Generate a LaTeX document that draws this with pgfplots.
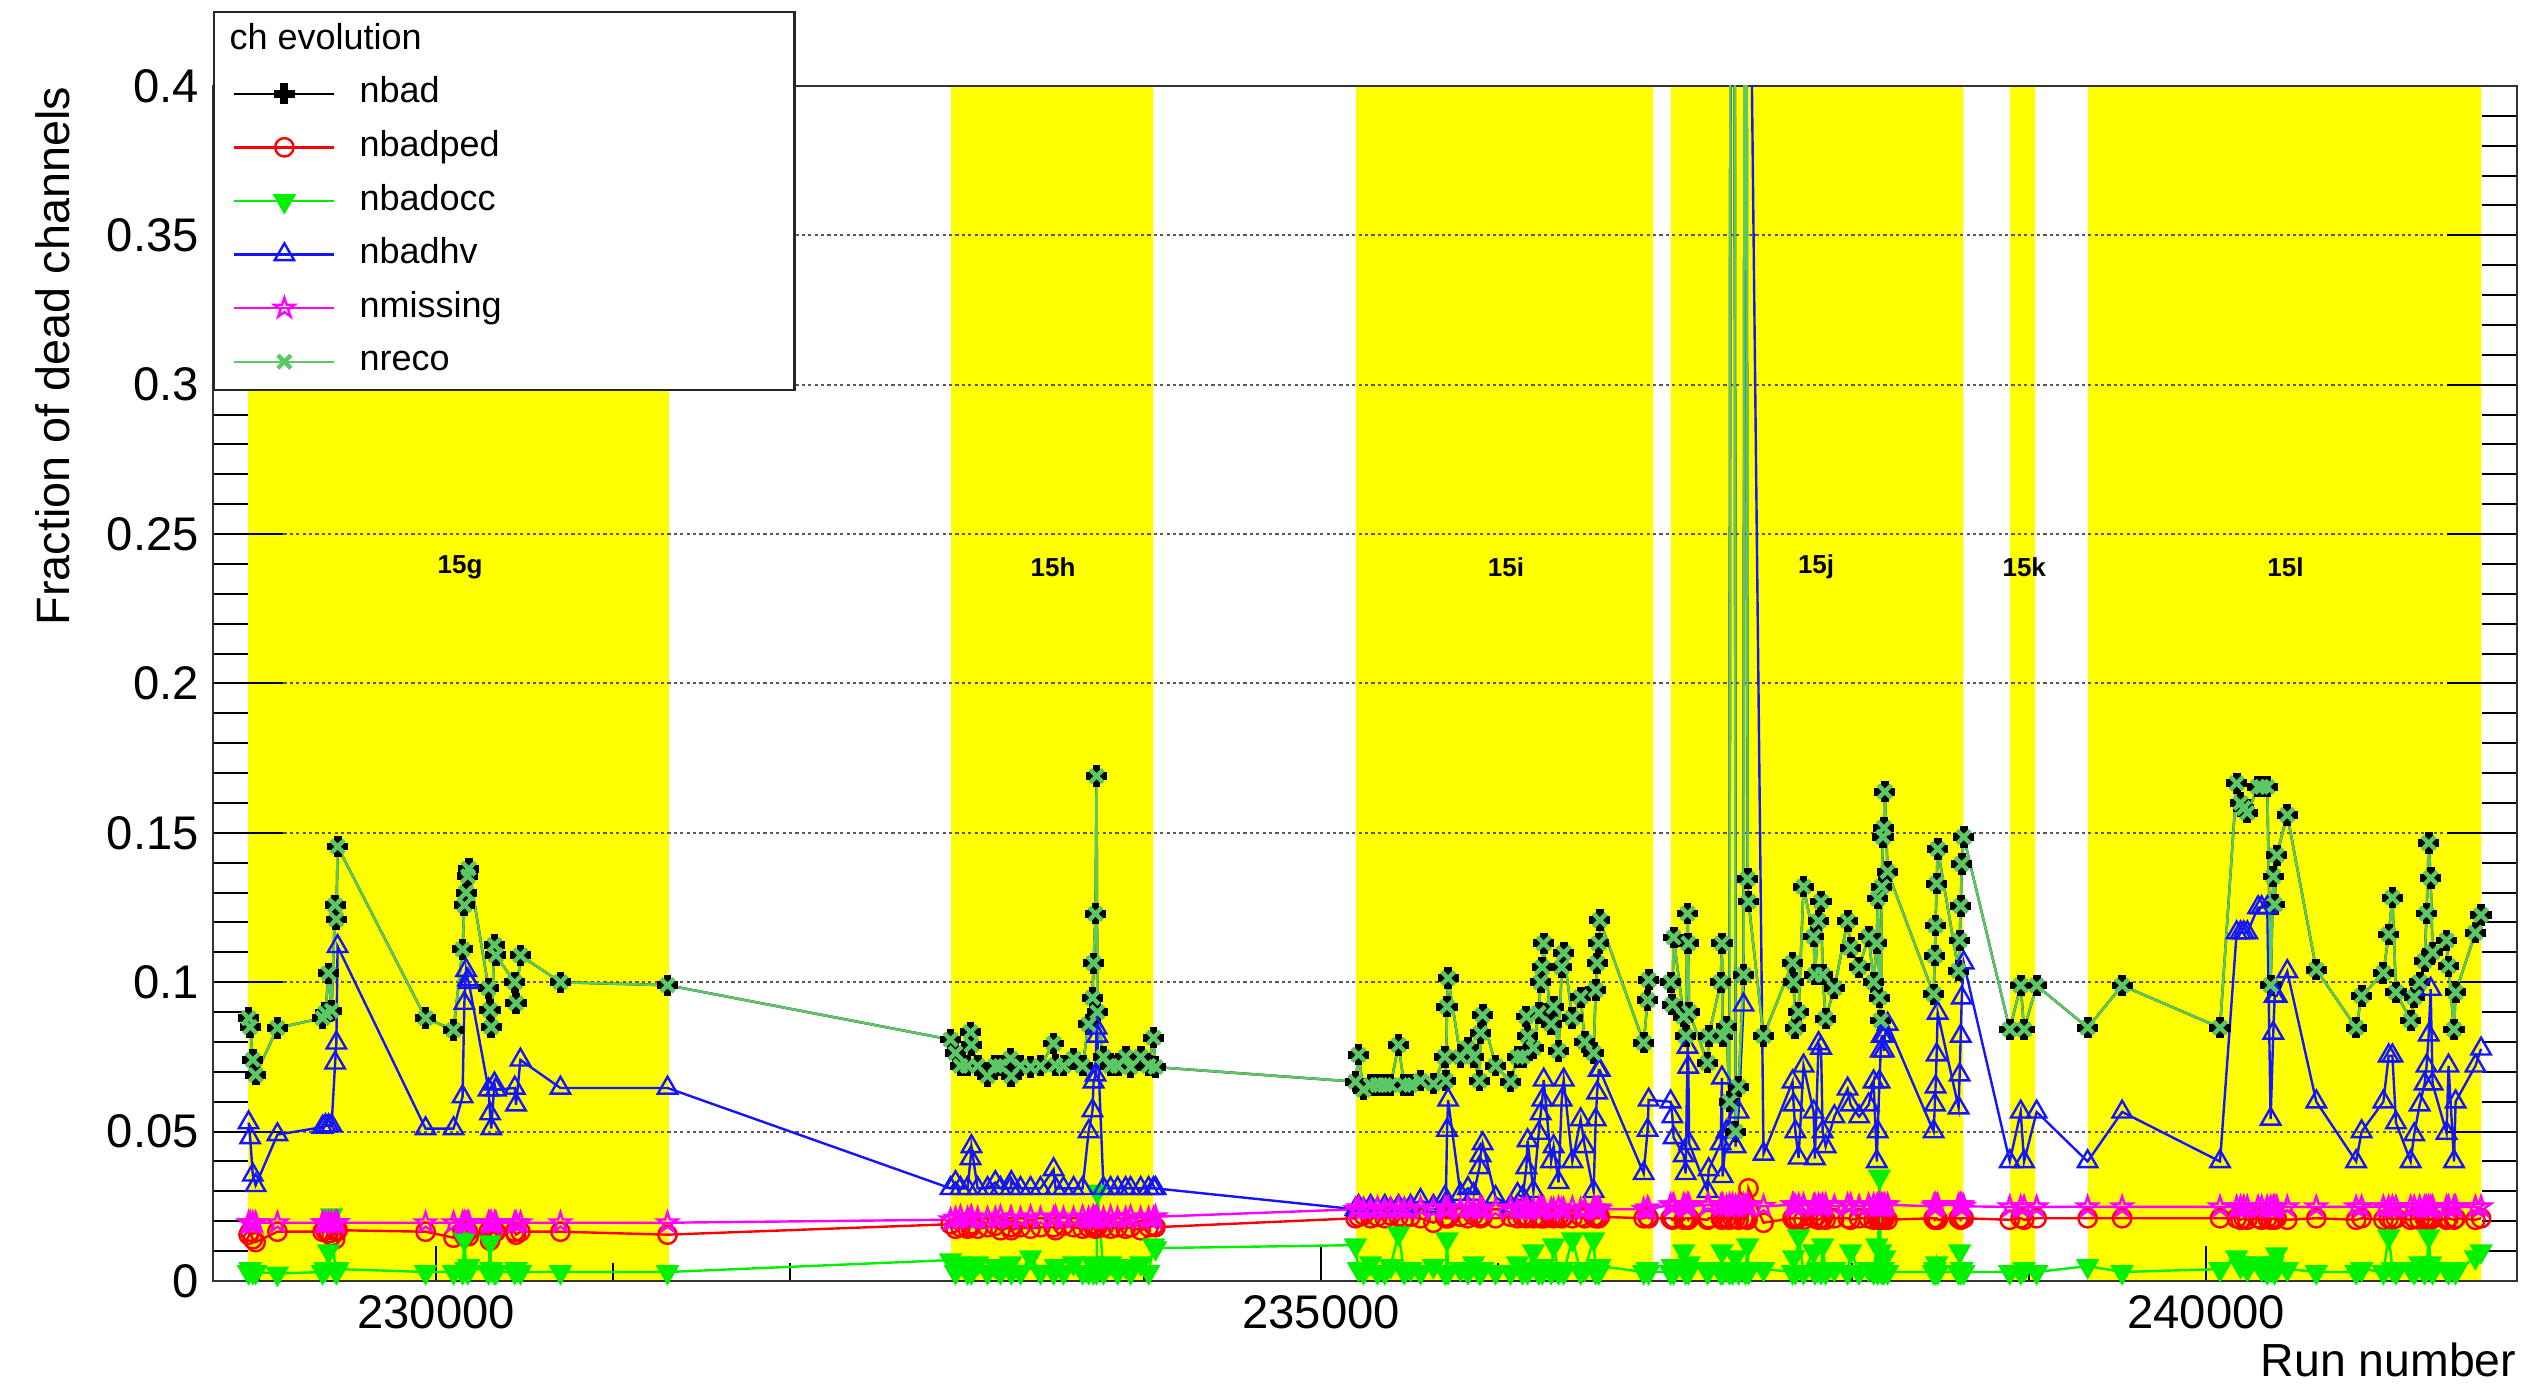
\documentclass[border=0pt]{standalone}
\usepackage{pgfplots}
\pgfplotsset{compat=1.18}
\usepackage{pgfplotstable}
\usepackage{fontspec}
\setmainfont{Liberation Sans}
\usetikzlibrary{plotmarks}

\definecolor{bandyellow}{RGB}{255,255,0}
\definecolor{cped}{RGB}{255,0,0}
\definecolor{cocc}{RGB}{0,240,0}
\definecolor{chv}{RGB}{20,20,255}
\definecolor{cmiss}{RGB}{255,0,255}
\definecolor{creco}{RGB}{90,200,100}
\definecolor{cgrid}{RGB}{90,90,90}

\pgfdeclareplotmark{fullcross}{%
  \pgfpathmoveto{\pgfqpoint{-0.33\pgfplotmarksize}{\pgfplotmarksize}}%
  \pgfpathlineto{\pgfqpoint{0.33\pgfplotmarksize}{\pgfplotmarksize}}%
  \pgfpathlineto{\pgfqpoint{0.33\pgfplotmarksize}{0.33\pgfplotmarksize}}%
  \pgfpathlineto{\pgfqpoint{\pgfplotmarksize}{0.33\pgfplotmarksize}}%
  \pgfpathlineto{\pgfqpoint{\pgfplotmarksize}{-0.33\pgfplotmarksize}}%
  \pgfpathlineto{\pgfqpoint{0.33\pgfplotmarksize}{-0.33\pgfplotmarksize}}%
  \pgfpathlineto{\pgfqpoint{0.33\pgfplotmarksize}{-\pgfplotmarksize}}%
  \pgfpathlineto{\pgfqpoint{-0.33\pgfplotmarksize}{-\pgfplotmarksize}}%
  \pgfpathlineto{\pgfqpoint{-0.33\pgfplotmarksize}{-0.33\pgfplotmarksize}}%
  \pgfpathlineto{\pgfqpoint{-\pgfplotmarksize}{-0.33\pgfplotmarksize}}%
  \pgfpathlineto{\pgfqpoint{-\pgfplotmarksize}{0.33\pgfplotmarksize}}%
  \pgfpathlineto{\pgfqpoint{-0.33\pgfplotmarksize}{0.33\pgfplotmarksize}}%
  \pgfpathclose
  \pgfusepathqfillstroke
}
\pgfdeclareplotmark{ostar}{%
  \pgfpathmoveto{\pgfqpoint{0pt}{\pgfplotmarksize}}%
  \pgfpathlineto{\pgfqpoint{-0.2245\pgfplotmarksize}{0.309\pgfplotmarksize}}%
  \pgfpathlineto{\pgfqpoint{-0.9511\pgfplotmarksize}{0.309\pgfplotmarksize}}%
  \pgfpathlineto{\pgfqpoint{-0.3633\pgfplotmarksize}{-0.118\pgfplotmarksize}}%
  \pgfpathlineto{\pgfqpoint{-0.5878\pgfplotmarksize}{-0.809\pgfplotmarksize}}%
  \pgfpathlineto{\pgfqpoint{0pt}{-0.382\pgfplotmarksize}}%
  \pgfpathlineto{\pgfqpoint{0.5878\pgfplotmarksize}{-0.809\pgfplotmarksize}}%
  \pgfpathlineto{\pgfqpoint{0.3633\pgfplotmarksize}{-0.118\pgfplotmarksize}}%
  \pgfpathlineto{\pgfqpoint{0.9511\pgfplotmarksize}{0.309\pgfplotmarksize}}%
  \pgfpathlineto{\pgfqpoint{0.2245\pgfplotmarksize}{0.309\pgfplotmarksize}}%
  \pgfpathclose
  \pgfusepathqstroke
}

\pgfplotstableread{
run nbad ped occ hv miss
228941 0.088 0.0155 0.003 0.053 0.0195
228950 0.085 0.0165 0.004 0.048 0.0195
228965 0.074 0.014 0.003 0.0355 0.0195
228981 0.069 0.013 0.003 0.032 0.0195
229104 0.0847 0.0165 0.0025 0.049 0.0195
229359 0.088 0.0165 0.003 0.0515 0.0195
229375 0.0897 0.017 0.004 0.052 0.0195
229393 0.103 0.016 0.010 0.052 0.0195
229410 0.0905 0.015 0.022 0.052 0.0195
229430 0.1258 0.014 0.004 0.073 0.0195
229437 0.121 0.0165 0.003 0.0797 0.0195
229444 0.1454 0.017 0.004 0.112 0.0195
229941 0.088 0.0165 0.003 0.051 0.0195
230099 0.084 0.0145 0.003 0.051 0.0195
230150 0.111 0.0165 0.003 0.0617 0.0195
230160 0.1258 0.015 0.014 0.093 0.0195
230170 0.130 0.0165 0.004 0.104 0.0195
230180 0.1355 0.0165 0.003 0.1008 0.0195
230185 0.138 0.015 0.005 0.100 0.0195
230297 0.098 0.0165 0.003 0.064 0.0195
230305 0.0907 0.0135 0.013 0.056 0.0195
230312 0.085 0.016 0.004 0.051 0.0195
230330 0.1125 0.0165 0.003 0.066 0.0195
230338 0.109 0.0165 0.003 0.064 0.0195
230445 0.100 0.0165 0.003 0.0646 0.0195
230452 0.093 0.0155 0.004 0.059 0.0195
230477 0.109 0.0165 0.003 0.074 0.0195
230703 0.100 0.0165 0.003 0.0646 0.0195
231308 0.099 0.0155 0.003 0.0646 0.0195
232907 0.0808 0.019 0.007 0.031 0.0205
232935 0.0763 0.0175 0.003 0.033 0.021
232963 0.072 0.018 0.006 0.031 0.0215
233003 0.072 0.0175 0.003 0.031 0.021
233020 0.0833 0.018 0.005 0.041 0.021
233025 0.079 0.019 0.003 0.045 0.0215
233060 0.072 0.0175 0.006 0.031 0.021
233116 0.0686 0.018 0.003 0.031 0.021
233160 0.072 0.0185 0.005 0.033 0.021
233189 0.072 0.017 0.003 0.031 0.0215
233246 0.0744 0.018 0.006 0.031 0.021
233250 0.0686 0.017 0.003 0.033 0.021
233302 0.072 0.018 0.003 0.031 0.021
233359 0.0716 0.0175 0.008 0.031 0.0215
233415 0.072 0.018 0.003 0.031 0.021
233489 0.0795 0.018 0.003 0.0373 0.021
233500 0.0723 0.017 0.005 0.031 0.0215
233545 0.072 0.0185 0.003 0.031 0.021
233602 0.0744 0.018 0.006 0.031 0.021
233653 0.072 0.0175 0.003 0.031 0.0215
233687 0.0859 0.018 0.003 0.050 0.021
233709 0.0948 0.019 0.006 0.057 0.021
233715 0.1064 0.018 0.003 0.0667 0.0215
233726 0.1229 0.0175 0.004 0.069 0.021
233732 0.169 0.018 0.003 0.0847 0.021
233736 0.090 0.018 0.030 0.082 0.0215
233771 0.075 0.018 0.003 0.031 0.021
233811 0.072 0.0175 0.006 0.031 0.0215
233851 0.072 0.018 0.003 0.031 0.021
233896 0.075 0.0175 0.005 0.031 0.021
233924 0.0716 0.018 0.003 0.031 0.0215
233981 0.075 0.017 0.006 0.031 0.021
234026 0.072 0.018 0.003 0.031 0.021
234054 0.0814 0.0185 0.012 0.031 0.021
234065 0.0716 0.018 0.011 0.031 0.0215
235195 0.0667 0.021 0.012 0.024 0.024
235212 0.0757 0.0215 0.004 0.025 0.0245
235240 0.064 0.022 0.003 0.024 0.024
235280 0.0656 0.021 0.006 0.025 0.024
235319 0.0656 0.0215 0.003 0.024 0.0245
235360 0.0656 0.021 0.003 0.025 0.024
235393 0.0656 0.022 0.005 0.024 0.024
235438 0.079 0.0215 0.016 0.025 0.0245
235470 0.0656 0.021 0.003 0.024 0.024
235506 0.0656 0.0215 0.004 0.025 0.024
235562 0.067 0.021 0.003 0.027 0.0245
235635 0.066 0.0195 0.005 0.025 0.024
235700 0.075 0.0215 0.003 0.028 0.0245
235705 0.067 0.021 0.003 0.026 0.024
235712 0.0918 0.0215 0.014 0.0505 0.024
235718 0.1014 0.021 0.003 0.0606 0.0245
235788 0.075 0.0215 0.004 0.029 0.024
235830 0.078 0.021 0.003 0.031 0.0245
235862 0.075 0.022 0.006 0.029 0.024
235895 0.067 0.0215 0.003 0.038 0.024
235901 0.083 0.021 0.003 0.042 0.0245
235913 0.089 0.0215 0.004 0.046 0.024
235986 0.072 0.021 0.003 0.028 0.024
236071 0.0667 0.0215 0.003 0.025 0.0245
236110 0.075 0.021 0.006 0.029 0.024
236139 0.075 0.0215 0.003 0.028 0.024
236160 0.0885 0.021 0.004 0.038 0.0245
236167 0.082 0.0215 0.003 0.047 0.024
236200 0.078 0.021 0.010 0.030 0.024
236230 0.0897 0.0215 0.003 0.0495 0.0245
236241 0.100 0.021 0.004 0.056 0.024
236250 0.105 0.0215 0.003 0.0606 0.024
236258 0.113 0.021 0.005 0.0673 0.0245
236300 0.086 0.0215 0.003 0.040 0.024
236314 0.0918 0.021 0.012 0.045 0.024
236342 0.077 0.0215 0.003 0.033 0.0245
236360 0.105 0.021 0.004 0.0606 0.024
236371 0.1098 0.0215 0.003 0.0673 0.024
236420 0.088 0.021 0.014 0.040 0.0245
236467 0.095 0.0215 0.003 0.054 0.024
236490 0.080 0.021 0.004 0.045 0.024
236540 0.0763 0.0215 0.014 0.030 0.0245
236552 0.0974 0.021 0.003 0.054 0.024
236560 0.1064 0.0215 0.004 0.063 0.024
236569 0.113 0.021 0.003 0.0706 0.0245
236575 0.1208 0.0215 0.005 0.0706 0.024
236823 0.0797 0.021 0.003 0.036 0.024
236845 0.094 0.0215 0.004 0.0505 0.0245
236851 0.1008 0.021 0.003 0.0606 0.024
236975 0.100 0.021 0.003 0.060 0.0255
236985 0.0925 0.0205 0.005 0.055 0.025
236992 0.115 0.021 0.003 0.048 0.0255
237049 0.0884 0.0205 0.010 0.042 0.0255
237060 0.082 0.021 0.003 0.036 0.025
237071 0.123 0.021 0.004 0.0783 0.0255
237075 0.113 0.0205 0.003 0.0716 0.0255
237080 0.090 0.021 0.006 0.046 0.025
237184 0.073 0.0205 0.003 0.030 0.0255
237190 0.082 0.021 0.004 0.0373 0.0255
237258 0.100 0.021 0.003 0.046 0.025
237265 0.113 0.0205 0.010 0.068 0.0255
237269 0.082 0.021 0.003 0.035 0.0255
237291 0.085 0.021 0.004 0.050 0.025
237308 0.060 0.0205 0.003 0.050 0.0255
237325 1.5 0.021 0.003 1.4 0.0255
237342 0.050 0.021 0.008 0.045 0.025
237359 0.065 0.0205 0.003 0.0566 0.0255
237387 0.1025 0.021 0.004 0.0924 0.0255
237398 0.8 0.021 0.003 0.6 0.025
237410 0.1346 0.0205 0.012 nan 0.0255
237415 0.127 0.031 0.003 nan 0.0255
237500 0.082 0.0195 0.004 0.0425 0.025
237664 0.1065 0.021 0.003 0.0667 0.0255
237670 0.100 0.0205 0.008 0.059 0.0255
237680 0.0847 0.021 0.003 0.050 0.025
237698 0.090 0.021 0.015 0.0412 0.0255
237726 0.132 0.0205 0.003 0.072 0.0255
237783 0.1153 0.021 0.010 0.0566 0.025
237790 0.1025 0.021 0.003 0.041 0.0255
237811 0.1205 0.0205 0.004 0.0795 0.0255
237825 0.127 0.021 0.003 0.078 0.025
237834 0.1025 0.021 0.012 0.050 0.0255
237851 0.0878 0.0205 0.003 0.045 0.0255
237900 0.098 0.021 0.004 0.055 0.025
237975 0.1205 0.021 0.003 0.0643 0.0255
237992 0.1115 0.0205 0.010 0.059 0.0255
238040 0.105 0.021 0.003 0.055 0.025
238094 0.1153 0.021 0.004 0.059 0.0255
238122 0.100 0.0205 0.003 0.0667 0.0255
238140 0.113 0.021 0.012 0.040 0.025
238145 0.128 0.021 0.003 0.050 0.0255
238155 0.0948 0.0205 0.035 0.0667 0.0255
238162 0.0872 0.021 0.010 0.077 0.025
238168 0.132 0.021 0.003 0.082 0.0255
238175 0.1486 0.0205 0.004 0.082 0.0255
238180 0.1517 0.021 0.003 0.077 0.025
238185 0.1638 0.021 0.008 0.082 0.0255
238201 0.137 0.0205 0.003 0.086 0.0255
238461 0.096 0.021 0.003 0.050 0.025
238468 0.1089 0.0205 0.004 0.059 0.0255
238472 0.119 0.021 0.003 0.065 0.0255
238478 0.133 0.021 0.006 0.0757 0.025
238484 0.1446 0.0205 0.003 0.0897 0.0255
238602 0.1038 0.021 0.003 0.058 0.0255
238608 0.114 0.021 0.010 0.069 0.025
238614 0.1255 0.0205 0.003 0.082 0.0255
238620 0.1396 0.021 0.004 0.0948 0.0255
238631 0.1486 0.021 0.003 0.1065 0.025
238891 0.0842 0.0205 0.003 0.040 0.0248
238953 0.0989 0.021 0.003 0.0566 0.0248
238972 0.0842 0.0205 0.004 0.040 0.0248
239043 0.0989 0.021 0.003 0.0566 0.0248
239331 0.0848 0.021 0.005 0.040 0.0248
239526 0.0989 0.021 0.003 0.0566 0.0248
240079 0.0848 0.021 0.004 0.040 0.0248
240173 0.1666 0.021 0.008 0.1166 0.0248
240195 0.160 0.0205 0.005 0.1166 0.0248
240213 0.1583 0.021 0.006 0.1166 0.0248
240233 0.1567 0.0205 0.004 0.1166 0.0248
240294 0.1654 0.021 0.006 0.125 0.0248
240314 0.1654 0.0205 0.004 0.125 0.0248
240346 0.1654 0.021 0.003 0.125 0.0248
240365 0.099 0.0205 0.004 0.0542 0.0248
240380 0.1354 0.021 0.006 0.083 0.0248
240388 0.126 0.0205 0.003 0.0954 0.0248
240399 0.1425 0.021 0.009 0.0954 0.0248
240459 0.156 0.0205 0.004 0.1036 0.0248
240623 0.1042 0.021 0.003 0.060 0.0248
240848 0.0848 0.0205 0.003 0.040 0.0248
240879 0.0954 0.021 0.004 0.050 0.0248
241002 0.1031 0.0205 0.003 0.060 0.0248
241032 0.116 0.021 0.015 0.0754 0.0248
241053 0.1283 0.0205 0.004 0.0754 0.0248
241073 0.0966 0.021 0.003 0.053 0.0248
241156 0.0872 0.0205 0.004 0.040 0.0248
241176 0.095 0.021 0.003 0.049 0.0248
241207 0.100 0.0205 0.006 0.059 0.0248
241235 0.1071 0.021 0.003 0.066 0.0248
241246 0.123 0.0205 0.004 0.072 0.0248
241258 0.1466 0.021 0.015 0.0824 0.0248
241269 0.1349 0.0205 0.006 0.0977 0.0248
241280 0.110 0.021 0.003 0.066 0.0248
241359 0.114 0.0205 0.004 0.0495 0.0248
241370 0.1054 0.021 0.003 0.072 0.0248
241401 0.0842 0.0205 0.004 0.040 0.0248
241410 0.0966 0.021 0.003 0.060 0.0248
241522 0.1166 0.0205 0.008 0.072 0.0248
241554 0.1225 0.021 0.010 0.0777 0.0248
}\runs

\pgfplotsset{
  commonaxis/.style={
    at={(0,0)}, anchor=south west, scale only axis,
    width=576pt, height=298.75pt,
    xmin=228740, xmax=241757, ymin=0, ymax=0.4,
    scaled x ticks=false, scaled y ticks=false,
  },
}

\begin{document}
\begin{tikzpicture}
\useasboundingbox (-53.25pt,-26.75pt) rectangle (583.25pt,320.25pt);

% background: yellow period bands
\begin{axis}[commonaxis, hide axis]
\addplot[fill=bandyellow, draw=none] coordinates {(228938,0) (228938,0.4) (231316,0.4) (231316,0)} \closedcycle;
\addplot[fill=bandyellow, draw=none] coordinates {(232910,0) (232910,0.4) (234051,0.4) (234051,0)} \closedcycle;
\addplot[fill=bandyellow, draw=none] coordinates {(235198,0) (235198,0.4) (236876,0.4) (236876,0)} \closedcycle;
\addplot[fill=bandyellow, draw=none] coordinates {(236977,0) (236977,0.4) (238627,0.4) (238627,0)} \closedcycle;
\addplot[fill=bandyellow, draw=none] coordinates {(238893,0) (238893,0.4) (239034,0.4) (239034,0)} \closedcycle;
\addplot[fill=bandyellow, draw=none] coordinates {(239333,0) (239333,0.4) (241554,0.4) (241554,0)} \closedcycle;
\begin{scope}[every node/.style={font=\bfseries\fontsize{6.5}{8}\selectfont, inner sep=0pt}]
\node at (axis cs:230136,0.239) {15g};
\node at (axis cs:233486,0.239) {15h};
\node at (axis cs:236045,0.239) {15i};
\node at (axis cs:237797,0.239) {15j};
\node at (axis cs:238973,0.239) {15k};
\node at (axis cs:240449,0.239) {15l};
\end{scope}
\end{axis}

% x ticks and x label
\begin{axis}[commonaxis,
  axis y line=none, axis x line*=bottom,
  axis line style={line width=0.6pt, black!80},
  xtick={230000,235000,240000},
  xticklabels={230000,235000,240000},
  minor xtick={229000,231000,232000,233000,234000,236000,237000,238000,239000,241000},
  tick align=inside,
  major tick length=8.75pt, minor tick length=4.5pt,
  tick style={black, line width=0.5pt},
  ticklabel style={font=\fontsize{11.8}{14}\selectfont},
  xlabel={Run number},
  xlabel style={at={(axis description cs:1,-0.0803)}, anchor=base east, inner sep=0pt, font=\fontsize{11.6}{14}\selectfont},
]
\end{axis}

% main axis
\begin{axis}[commonaxis,
  axis line style={line width=0.6pt, black!80},
  xtick=\empty,
  ytick={0,0.05,0.1,0.15,0.2,0.25,0.3,0.35,0.4},
  yticklabels={0,0.05,0.1,0.15,0.2,0.25,0.3,0.35,0.4},
  minor ytick={0.01,0.02,0.03,0.04,0.06,0.07,0.08,0.09,0.11,0.12,0.13,0.14,0.16,0.17,0.18,0.19,0.21,0.22,0.23,0.24,0.26,0.27,0.28,0.29,0.31,0.32,0.33,0.34,0.36,0.37,0.38,0.39},
  ytick pos=both, yticklabel pos=left,
  tick align=inside,
  major tick length=17.5pt, minor tick length=8.75pt,
  tick style={black, line width=0.5pt},
  ymajorgrids,
  major grid style={dash pattern=on 0.8pt off 0.8pt, cgrid, line width=0.5pt},
  ticklabel style={font=\fontsize{11.8}{14}\selectfont},
  ylabel={Fraction of dead channels},
  ylabel style={at={(axis description cs:-0.0621,1)}, anchor=base east, inner sep=0pt, font=\fontsize{11.7}{14}\selectfont},
  legend image code/.code={%
    \draw[mark repeat=2,mark phase=2,#1] plot coordinates {(0pt,0pt) (12.5pt,0pt) (25pt,0pt)};%
  },
  legend cell align=left,
  legend style={
    at={(0,1.0628)}, anchor=north west,
    draw=black!85, line width=0.6pt, fill=white,
    inner xsep=4.75pt, inner ysep=2.8pt,
    row sep=5pt, column sep=6pt,
    font=\fontsize{9}{10.8}\selectfont,
    nodes={inner sep=0pt, text height=6.5pt, text depth=1.9pt},
  },
]
\addlegendimage{empty legend}
\addlegendentry{\hspace*{-32.5pt}\makebox[136.5pt][l]{ch evolution}}

\addplot[black, line width=0.6pt, mark=fullcross, mark size=2.5pt, mark options={solid, fill=black, line width=0.3pt}] table[x=run, y=nbad] {\runs};
\addlegendentry{nbad}
\addplot[cped, line width=0.6pt, mark=o, mark size=2.3pt] table[x=run, y=ped] {\runs};
\addlegendentry{nbadped}
\addplot[cocc, line width=0.6pt, mark=triangle*, mark size=2.8pt, mark options={rotate=180, fill=cocc}] table[x=run, y=occ] {\runs};
\addlegendentry{nbadocc}
\addplot[chv, line width=0.6pt, mark=triangle, mark size=2.8pt] table[x=run, y=hv] {\runs};
\addlegendentry{nbadhv}
\addplot[cmiss, line width=0.6pt, mark=ostar, mark size=2.6pt] table[x=run, y=miss] {\runs};
\addlegendentry{nmissing}
\addplot[creco, line width=0.6pt, mark=x, mark size=2.3pt, mark options={line width=1.1pt}] table[x=run, y=nbad] {\runs};
\addlegendentry{nreco}
\end{axis}
\end{tikzpicture}
\end{document}
